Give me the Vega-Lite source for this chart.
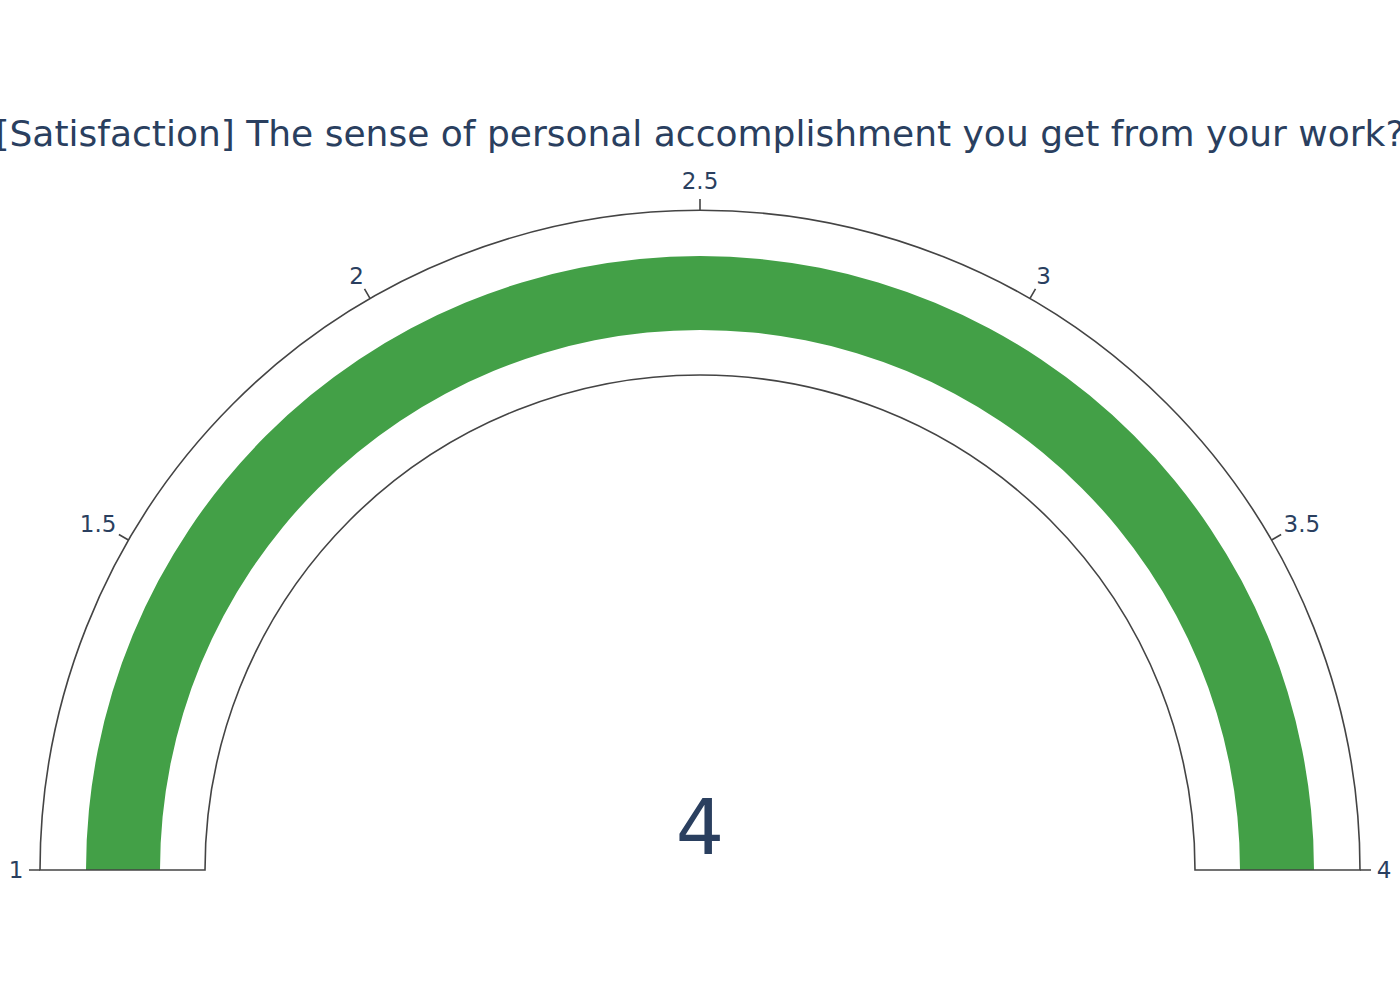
{
  "$schema": "https://vega.github.io/schema/vega-lite/v6.json",
  "width": 1400,
  "height": 1000,
  "autosize": {"type": "none"},
  "padding": 0,
  "background": "white",
  "config": {"view": {"stroke": null}},
  "title": {
    "text": "[Satisfaction] The sense of personal accomplishment you get from your work?",
    "font": "DejaVu Sans",
    "fontSize": 36,
    "fontWeight": "normal",
    "color": "#2a3f5f",
    "anchor": "middle",
    "baseline": "alphabetic",
    "offset": 0,
    "dy": 182
  },
  "datasets": {
    "gauge": [{"min": 1, "max": 4, "value": 4}],
    "ticks": [{"t": 1}, {"t": 1.5}, {"t": 2}, {"t": 2.5}, {"t": 3}, {"t": 3.5}, {"t": 4}]
  },
  "encoding": {
    "x": {"datum": 0, "type": "quantitative", "scale": {"domain": [-1.060606, 1.060606], "nice": false, "zero": false}, "axis": null},
    "y": {"datum": 0, "type": "quantitative", "scale": {"domain": [-0.19697, 1.318182], "nice": false, "zero": false}, "axis": null}
  },
  "layer": [
    {
      "data": {"name": "gauge"},
      "mark": {"type": "arc", "fill": "white", "stroke": null},
      "encoding": {
        "theta": {"field": "min", "type": "quantitative", "stack": null, "scale": {"domain": [1, 4], "range": [-1.5707963, 1.5707963], "zero": false, "nice": false}},
        "theta2": {"field": "max"},
        "radius": {"datum": 0.75, "type": "quantitative", "scale": {"type": "linear", "domain": [0, 1], "range": [0, 660], "zero": true, "nice": false}},
        "radius2": {"datum": 1}
      }
    },
    {
      "data": {"name": "gauge"},
      "mark": {"type": "arc", "fill": "#43a047", "stroke": null},
      "encoding": {
        "theta": {"field": "min", "type": "quantitative", "stack": null},
        "theta2": {"field": "value"},
        "radius": {"datum": 0.8182, "type": "quantitative"},
        "radius2": {"datum": 0.9303}
      }
    },
    {
      "data": {"name": "gauge"},
      "mark": {"type": "arc", "fill": null, "fillOpacity": 0, "stroke": "#444444", "strokeWidth": 1.6},
      "encoding": {
        "theta": {"field": "min", "type": "quantitative", "stack": null},
        "theta2": {"field": "max"},
        "radius": {"datum": 0.75, "type": "quantitative"},
        "radius2": {"datum": 1}
      }
    },
    {
      "data": {"name": "ticks"},
      "mark": {"type": "arc", "fill": null, "fillOpacity": 0, "stroke": "#444444", "strokeWidth": 1.6},
      "encoding": {
        "theta": {"field": "t", "type": "quantitative", "stack": null},
        "theta2": {"field": "t"},
        "radius": {"datum": 1, "type": "quantitative"},
        "radius2": {"datum": 1.0167}
      }
    },
    {
      "data": {"name": "ticks"},
      "transform": [{"filter": "datum.t == 1 || datum.t == 4"}],
      "mark": {"type": "text", "font": "DejaVu Sans", "fontSize": 23, "color": "#2a3f5f", "align": "center", "baseline": "middle", "dy": 1},
      "encoding": {
        "theta": {"field": "t", "type": "quantitative"},
        "radius": {"datum": 1.0364, "type": "quantitative"},
        "text": {"field": "t", "type": "quantitative", "format": "~g"}
      }
    },
    {
      "data": {"name": "ticks"},
      "transform": [{"filter": "datum.t == 1.5 || datum.t == 3.5"}],
      "mark": {"type": "text", "font": "DejaVu Sans", "fontSize": 23, "color": "#2a3f5f", "align": "center", "baseline": "middle", "dy": 2},
      "encoding": {
        "theta": {"field": "t", "type": "quantitative"},
        "radius": {"datum": 1.053, "type": "quantitative"},
        "text": {"field": "t", "type": "quantitative", "format": "~g"}
      }
    },
    {
      "data": {"name": "ticks"},
      "transform": [{"filter": "datum.t == 2 || datum.t == 3"}],
      "mark": {"type": "text", "font": "DejaVu Sans", "fontSize": 23, "color": "#2a3f5f", "align": "center", "baseline": "middle", "dy": 2},
      "encoding": {
        "theta": {"field": "t", "type": "quantitative"},
        "radius": {"datum": 1.041, "type": "quantitative"},
        "text": {"field": "t", "type": "quantitative", "format": "~g"}
      }
    },
    {
      "data": {"name": "ticks"},
      "transform": [{"filter": "datum.t == 2.5"}],
      "mark": {"type": "text", "font": "DejaVu Sans", "fontSize": 23, "color": "#2a3f5f", "align": "center", "baseline": "middle", "dy": 2},
      "encoding": {
        "theta": {"field": "t", "type": "quantitative"},
        "radius": {"datum": 1.0455, "type": "quantitative"},
        "text": {"field": "t", "type": "quantitative", "format": "~g"}
      }
    },
    {
      "data": {"name": "gauge"},
      "mark": {"type": "text", "font": "DejaVu Sans", "fontSize": 76, "color": "#2a3f5f", "align": "center", "baseline": "alphabetic"},
      "encoding": {
        "text": {"field": "value", "type": "quantitative", "format": "~g"},
        "y": {"datum": 0.0242, "type": "quantitative"}
      }
    }
  ]
}
